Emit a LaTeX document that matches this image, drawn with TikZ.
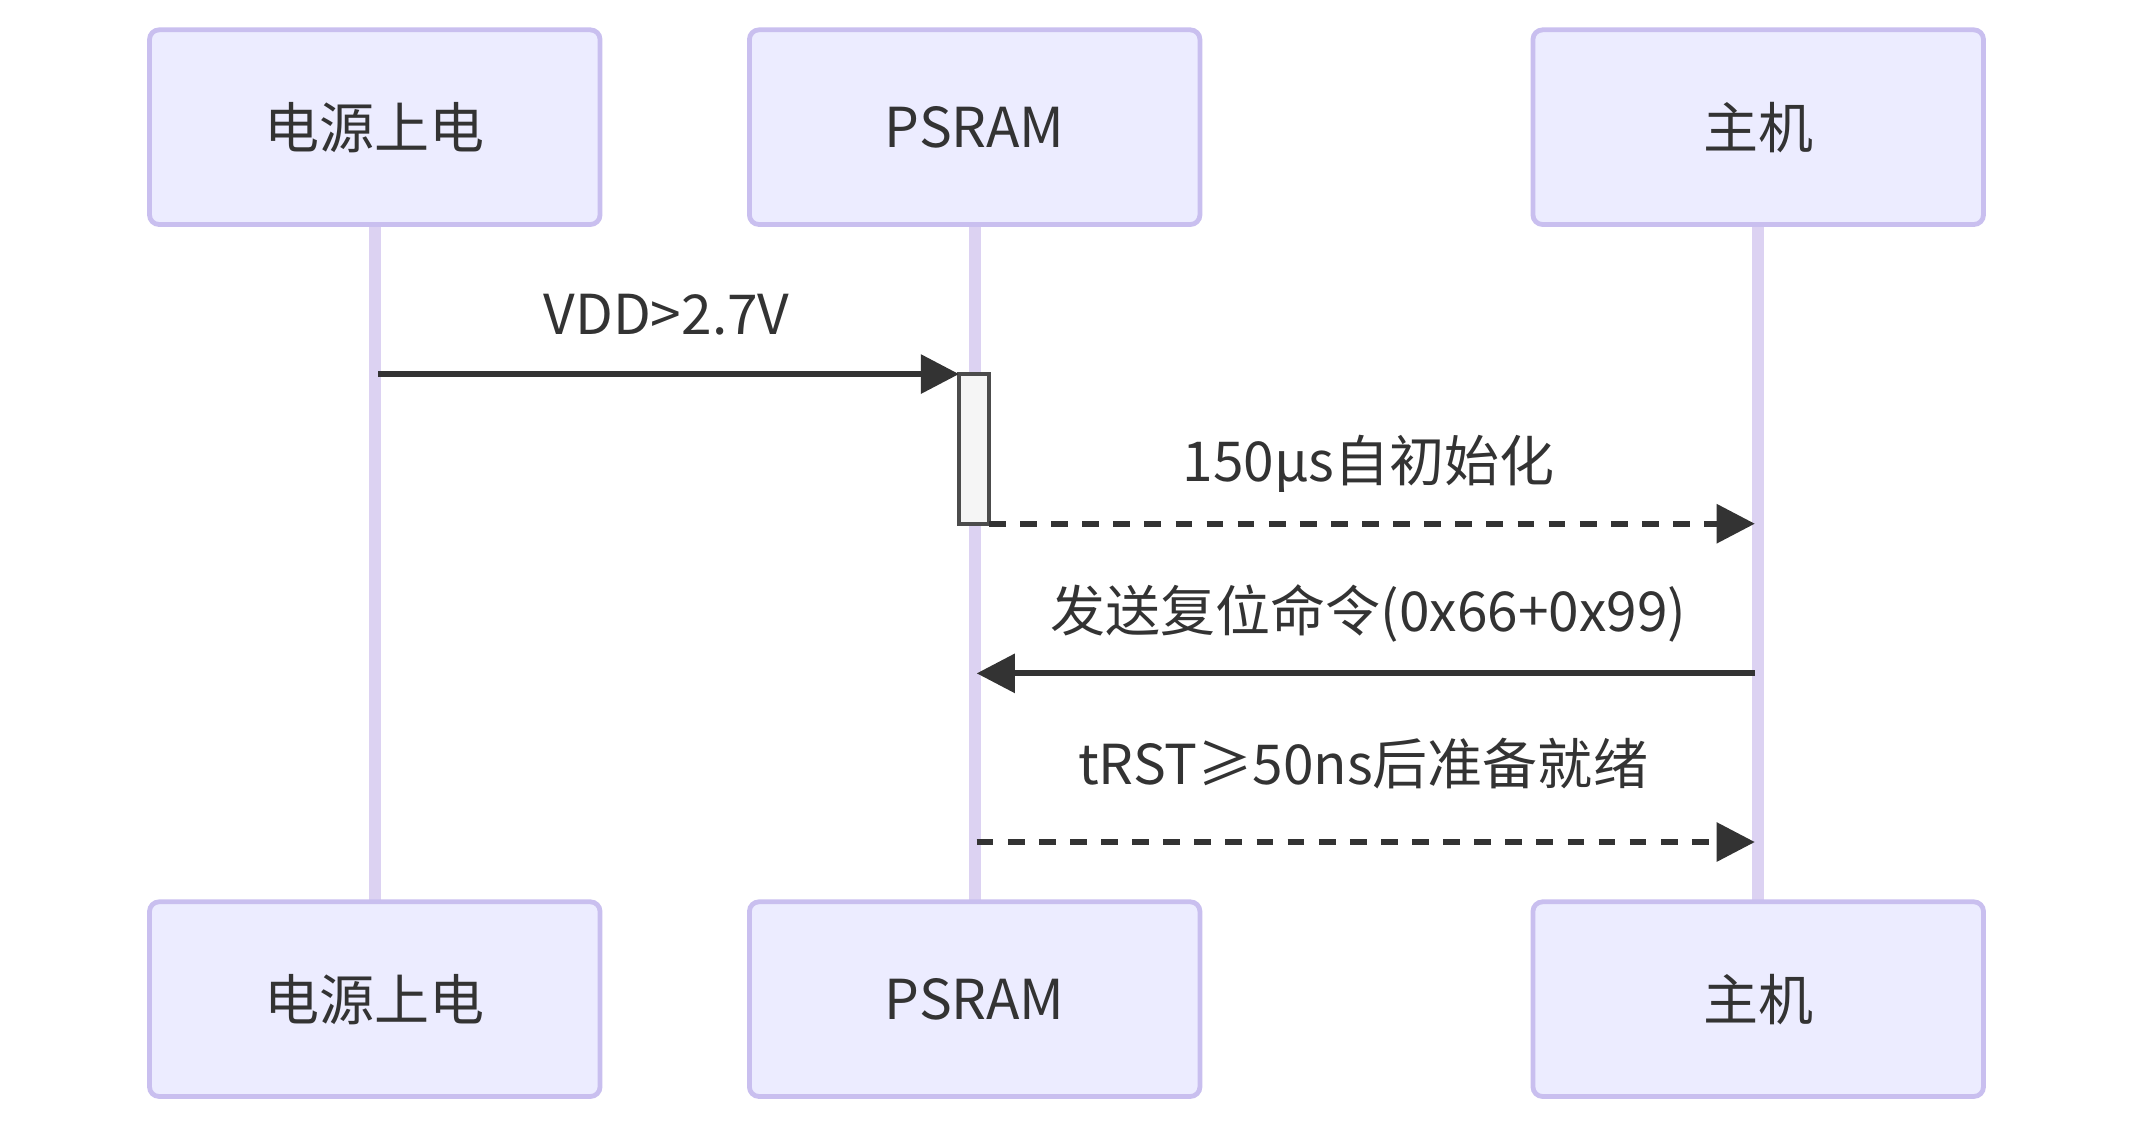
\documentclass[tikz,border=0pt]{standalone}
\usepackage{fontspec}
\setmainfont{Noto Sans CJK SC}
\usepackage{xcolor}
\usetikzlibrary{arrows.meta}
\definecolor{boxfill}{HTML}{ECECFF}
\definecolor{boxline}{HTML}{C9BFEF}
\definecolor{lifeline}{HTML}{DCD2F2}
\definecolor{ink}{HTML}{333333}
\tikzset{
  actor/.style={draw=boxline, line width=1pt, fill=boxfill, rounded corners=2pt,
    minimum width=3.31cm, minimum height=1.43cm, font=\fontsize{11.5}{13}\selectfont, text=ink},
  msg/.style={draw=ink, line width=1.2pt, -{Triangle[length=8pt,width=8pt]}},
  reply/.style={msg, dash pattern=on 3.5pt off 3pt},
  lbl/.style={font=\fontsize{11.5}{13}\selectfont, text=ink}
}
\begin{document}
\begin{tikzpicture}[x=0.01cm, y=-0.01cm]
    \useasboundingbox (0,0) rectangle (1568,831);
    % Lifelines
    \foreach \n/\x in {pwr/275.5, ram/716.5, host/1292.5}{
      \draw[lifeline, line width=2.5pt] (\x,165) -- (\x,663);
    }
    % Actors
    \node[actor] (pwrT) at (275.5,93.5) {电源上电};
    \node[actor] (ramT) at (716.5,93.5) {PSRAM};
    \node[actor] (hostT) at (1292.5,93.5) {主机};
    \node[actor] (pwrB) at (275.5,734.5) {电源上电};
    \node[actor] (ramB) at (716.5,734.5) {PSRAM};
    \node[actor] (hostB) at (1292.5,734.5) {主机};
    % Activation
    \draw[fill=gray!8, draw=gray!140, line width=0.8pt] (705,275) rectangle (727,385);
    % Message points
    \coordinate (m1s) at (278,275);  \coordinate (m1e) at (705,275);
    \coordinate (m2s) at (727,385);  \coordinate (m2e) at (1290,385);
    \coordinate (m3s) at (1290,495); \coordinate (m3e) at (718,495);
    \coordinate (m4s) at (718,619);  \coordinate (m4e) at (1290,619);
    % Messages
    \draw[msg] (m1s) -- (m1e);
    \node[lbl] (l1) at (490,231) {VDD>2.7V};
    \draw[reply] (m2s) -- (m2e);
    \node[lbl] (l2) at (1006,341) {150μs自初始化};
    \draw[msg] (m3s) -- (m3e);
    \node[lbl] (l3) at (1006,451) {发送复位命令(0x66+0x99)};
    \draw[reply] (m4s) -- (m4e);
    \node[lbl] (l4) at (1002,561) {tRST≥50ns后准备就绪};
\end{tikzpicture}
\end{document}
